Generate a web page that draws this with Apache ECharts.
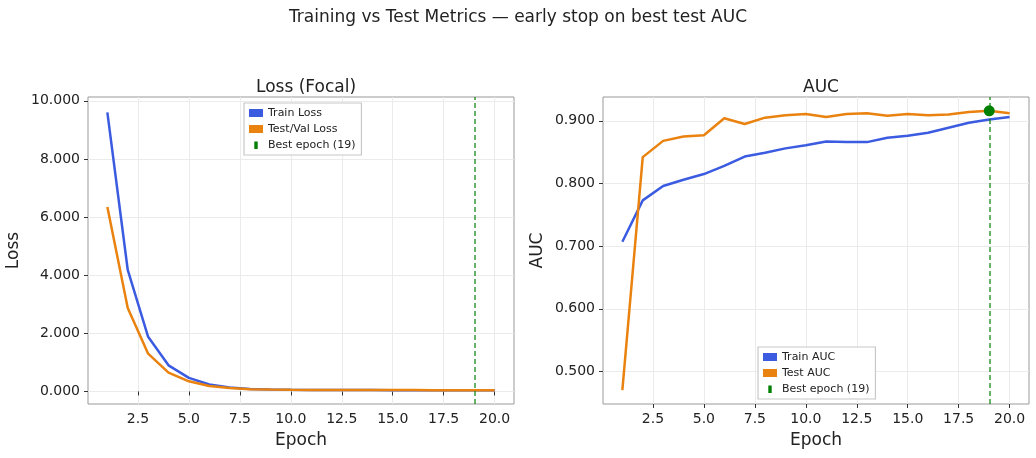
<!DOCTYPE html>
<html>
<head>
<meta charset="utf-8">
<script src="https://cdn.jsdelivr.net/npm/echarts@6/dist/echarts.min.js"></script>
<style>
html,body{margin:0;padding:0;background:#fff;}
#chart{width:1036px;height:458px;}
</style>
</head>
<body>
<div id="chart"></div>
<script>
// ---- data ----
const epochs = [1,2,3,4,5,6,7,8,9,10,11,12,13,14,15,16,17,18,19,20];
const trainLoss = [9.60,4.18,1.88,0.90,0.47,0.24,0.14,0.09,0.07,0.06,0.055,0.05,0.05,0.048,0.046,0.045,0.044,0.043,0.042,0.041];
const testLoss  = [6.35,2.87,1.30,0.65,0.35,0.19,0.12,0.08,0.065,0.058,0.054,0.052,0.05,0.05,0.049,0.048,0.047,0.047,0.046,0.046];
const trainAUC  = [0.707,0.773,0.796,0.806,0.815,0.828,0.843,0.849,0.856,0.861,0.867,0.866,0.866,0.873,0.876,0.881,0.889,0.897,0.902,0.906];
const testAUC   = [0.470,0.842,0.868,0.875,0.877,0.904,0.895,0.905,0.909,0.911,0.906,0.911,0.912,0.908,0.911,0.909,0.910,0.914,0.916,0.912];
const bestEpoch = 19;
const xTicks = [2.5,5,7.5,10,12.5,15,17.5,20];
const lossTicks = [0,2,4,6,8,10];
const aucTicks = [0.5,0.6,0.7,0.8,0.9];
const bestLabel = 'Best epoch (' + bestEpoch + ')';

// ---- styles ----
const FONT = 'DejaVu Sans';
const BLUE = '#3b5be0';
const ORANGE = '#ea820f';
const GREEN = '#008000';
const pairs = (ys) => epochs.map((e, i) => [e, ys[i]]);
const bestAUC = testAUC[epochs.indexOf(bestEpoch)];

function xAxisOf(gi) {
  return {
    type: 'value', gridIndex: gi, min: 0.05, max: 20.95,
    name: 'Epoch', nameLocation: 'middle', nameGap: 28,
    nameTextStyle: {fontFamily: FONT, fontSize: 17, color: '#222'},
    axisLine: {show: false},
    axisTick: {show: true, length: 4, lineStyle: {color: '#333'}, customValues: xTicks},
    axisLabel: {fontFamily: FONT, fontSize: 14, color: '#222', margin: 8, customValues: xTicks,
      formatter: v => v.toFixed(1)},
    splitLine: {show: true, lineStyle: {color: '#ebebeb', width: 1}}
  };
}
function yAxisOf(gi, name, min, max, ticks, gap) {
  return {
    type: 'value', gridIndex: gi, min: min, max: max,
    name: name, nameLocation: 'middle', nameGap: gap,
    nameTextStyle: {fontFamily: FONT, fontSize: 17, color: '#222'},
    axisLine: {show: false},
    axisTick: {show: true, length: 4, lineStyle: {color: '#333'}, customValues: ticks},
    axisLabel: {fontFamily: FONT, fontSize: 14, color: '#222', margin: 8, customValues: ticks,
      formatter: v => v.toFixed(3)},
    splitLine: {show: true, lineStyle: {color: '#ebebeb', width: 1}}
  };
}
function bestLine(xi, yi) {
  return {
    name: bestLabel, type: 'line', xAxisIndex: xi, yAxisIndex: yi, data: [], z: 2,
    itemStyle: {color: GREEN}, lineStyle: {color: GREEN},
    markLine: {
      silent: true, symbol: ['none','none'], label: {show: false},
      lineStyle: {color: GREEN, type: [5,3], width: 1.5, opacity: 0.8},
      data: [{xAxis: bestEpoch}]
    }
  };
}
const barIcon = 'path://M0,0 L0,0 M14,8 L14,8 M5.3,0.5 L8.7,0.5 L8.7,8 L5.3,8 Z';
function legendOf(gi, names, left, top) {
  return {
    orient: 'vertical', left: left, top: top,
    backgroundColor: '#fff', borderColor: '#c8c8c8', borderWidth: 1.2, borderRadius: 0,
    padding: [4, 6, 4, 5], itemGap: 4, itemWidth: 14, itemHeight: 8,
    textStyle: {fontFamily: FONT, fontSize: 11, color: '#222', lineHeight: 12},
    selectedMode: false,
    data: [
      {name: names[0], icon: 'rect'},
      {name: names[1], icon: 'rect'},
      {name: bestLabel, icon: barIcon}
    ]
  };
}

const chart = echarts.init(document.getElementById('chart'), null, {renderer: 'canvas'});
chart.setOption({
  backgroundColor: '#fff',
  animation: false,
  title: [
    {text: 'Training vs Test Metrics — early stop on best test AUC', left: 'center', top: 4,
      textStyle: {fontFamily: FONT, fontSize: 17, fontWeight: 'normal', color: '#222'}},
    {text: 'Loss (Focal)', left: 301, top: 74, textAlign: 'center',
      textStyle: {fontFamily: FONT, fontSize: 17, fontWeight: 'normal', color: '#222'}},
    {text: 'AUC', left: 816, top: 74, textAlign: 'center',
      textStyle: {fontFamily: FONT, fontSize: 17, fontWeight: 'normal', color: '#222'}}
  ],
  grid: [
    {left: 88, top: 97, width: 426, height: 307, show: true, borderColor: '#999', borderWidth: 1, backgroundColor: 'transparent'},
    {left: 603, top: 97, width: 426, height: 307, show: true, borderColor: '#999', borderWidth: 1, backgroundColor: 'transparent'}
  ],
  legend: [
    legendOf(0, ['Train Loss', 'Test/Val Loss'], 244, 103),
    legendOf(1, ['Train AUC', 'Test AUC'], 758, 347)
  ],
  xAxis: [xAxisOf(0), xAxisOf(1)],
  yAxis: [
    yAxisOf(0, 'Loss', -0.43, 10.13, lossTicks, 66),
    yAxisOf(1, 'AUC', 0.448, 0.938, aucTicks, 57)
  ],
  series: [
    {name: 'Train Loss', type: 'line', xAxisIndex: 0, yAxisIndex: 0, data: pairs(trainLoss),
      showSymbol: false, symbol: 'none', lineStyle: {color: BLUE, width: 2.5}, itemStyle: {color: BLUE}, z: 3},
    {name: 'Test/Val Loss', type: 'line', xAxisIndex: 0, yAxisIndex: 0, data: pairs(testLoss),
      showSymbol: false, symbol: 'none', lineStyle: {color: ORANGE, width: 2.5}, itemStyle: {color: ORANGE}, z: 4},
    bestLine(0, 0),
    {name: 'Train AUC', type: 'line', xAxisIndex: 1, yAxisIndex: 1, data: pairs(trainAUC),
      showSymbol: false, symbol: 'none', lineStyle: {color: BLUE, width: 2.5}, itemStyle: {color: BLUE}, z: 3},
    {name: 'Test AUC', type: 'line', xAxisIndex: 1, yAxisIndex: 1, data: pairs(testAUC),
      showSymbol: false, symbol: 'none', lineStyle: {color: ORANGE, width: 2.5}, itemStyle: {color: ORANGE}, z: 4},
    bestLine(1, 1),
    {name: 'best-point', type: 'scatter', xAxisIndex: 1, yAxisIndex: 1, data: [[bestEpoch, bestAUC]],
      symbolSize: 11, itemStyle: {color: GREEN, opacity: 1}, z: 6, silent: true}
  ]
});
</script>
</body>
</html>
